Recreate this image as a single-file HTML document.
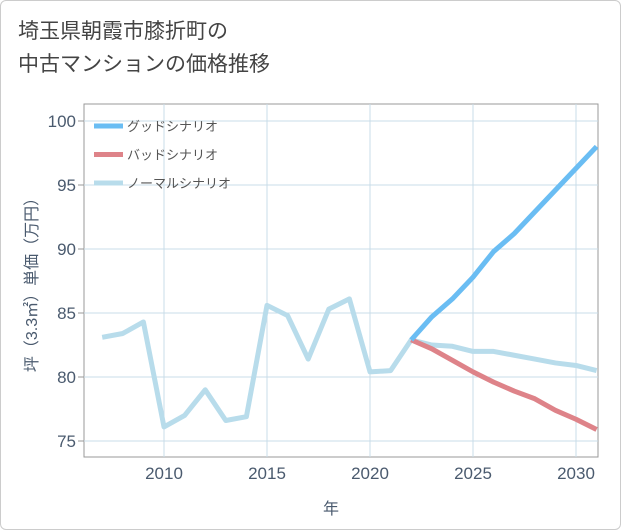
<!DOCTYPE html>
<html><head><meta charset="utf-8"><style>
body{margin:0;background:#fff}
.wrap{position:relative;width:619px;height:528px;border:1px solid #ccc;border-radius:6px;background:#fff;font-family:"Liberation Sans","Noto Sans CJK JP",sans-serif}
.title{position:absolute;left:17px;top:14px;font-size:21px;line-height:33px;color:#444}
</style></head><body>
<div class="wrap">
<div class="title">埼玉県朝霞市膝折町の<br>中古マンションの価格推移</div>
<svg id="c" width="621" height="530" style="position:absolute;left:-1px;top:-1px"></svg>
</div>
<script>
const years=[2007,2008,2009,2010,2011,2012,2013,2014,2015,2016,2017,2018,2019,2020,2021,2022,2023,2024,2025,2026,2027,2028,2029,2030,2031];
const normal=[83.1,83.4,84.3,76.1,77.0,79.0,76.6,76.9,85.6,84.8,81.4,85.3,86.1,80.4,80.5,82.9,82.5,82.4,82.0,82.0,81.7,81.4,81.1,80.9,80.5];
const fYears=[2022,2023,2024,2025,2026,2027,2028,2029,2030,2031];
const good=[82.9,84.7,86.1,87.8,89.8,91.2,92.9,94.6,96.3,98.0];
const bad=[82.9,82.2,81.3,80.4,79.6,78.9,78.3,77.4,76.7,75.9];
const xTicks=[2010,2015,2020,2025,2030];
const yTicks=[75,80,85,90,95,100];
const L=84,R=598,T=104,B=457;
const x=v=>164+(v-2010)*20.6;
const y=v=>121+(100-v)*12.8;
const svg=document.getElementById('c');const NS='http://www.w3.org/2000/svg';
function mk(t,a,p){const e=document.createElementNS(NS,t);for(const k in a)e.setAttribute(k,a[k]);(p||svg).appendChild(e);return e;}
let e;
e=mk('rect',{x:L,y:T,width:R-L,height:B-T,fill:'none',stroke:'#999','stroke-width':1});


xTicks.forEach(t=>{
 e=mk('line',{x1:x(t),x2:x(t),y1:T,y2:B,stroke:'#c9dce8'});
 
 
 e=mk('text',{x:x(t),y:B+22,'text-anchor':'middle','font-size':17,fill:'#4a5a6e'});e.textContent=t;
 
 
});
yTicks.forEach(t=>{
 e=mk('line',{x1:L,x2:R,y1:y(t),y2:y(t),stroke:'#c9dce8'});
 
 
 e=mk('line',{x1:L-6,x2:L,y1:y(t),y2:y(t),stroke:'#999'});
 
 
 e=mk('text',{x:L-8,y:y(t)+6,'text-anchor':'end','font-size':17,fill:'#4a5a6e'});e.textContent=t;
 
 
});
e=mk('text',{x:331,y:514,'text-anchor':'middle','font-size':16,fill:'#4a5a6e'});e.textContent='年';


e=mk('text',{x:0,y:0,'text-anchor':'middle','font-size':16,fill:'#4a5a6e',transform:'translate(37,281) rotate(-90)'});e.textContent='坪（3.3㎡）単価（万円）';


const cp=mk('clipPath',{id:'cp'});mk('rect',{x:L,y:T,width:R-L,height:B-T},cp);
function line(xs,vs,col,name){const d=xs.map((v,i)=>(i?'L':'M')+x(v)+','+y(vs[i])).join(' ');
 const p=mk('path',{d:d,fill:'none',stroke:col,'stroke-width':5,'stroke-linejoin':'round','clip-path':'url(#cp)'});
 
 }
line(years,normal,'#b8dceb','normal-scenario-line');
line(fYears,bad,'#de8389','bad-scenario-line');
line(fYears,good,'#6abdf3','good-scenario-line');
const leg=[['グッドシナリオ','#6abdf3'],['バッドシナリオ','#de8389'],['ノーマルシナリオ','#b8dceb']];
leg.forEach((l,i)=>{const yy=126+i*28.5;
 e=mk('line',{x1:94,x2:123,y1:yy,y2:yy,stroke:l[1],'stroke-width':5});
 
 
 e=mk('text',{x:127,y:yy+5,'font-size':13,fill:'#555'});e.textContent=l[0];
 
 
});
</script>
</body></html>
